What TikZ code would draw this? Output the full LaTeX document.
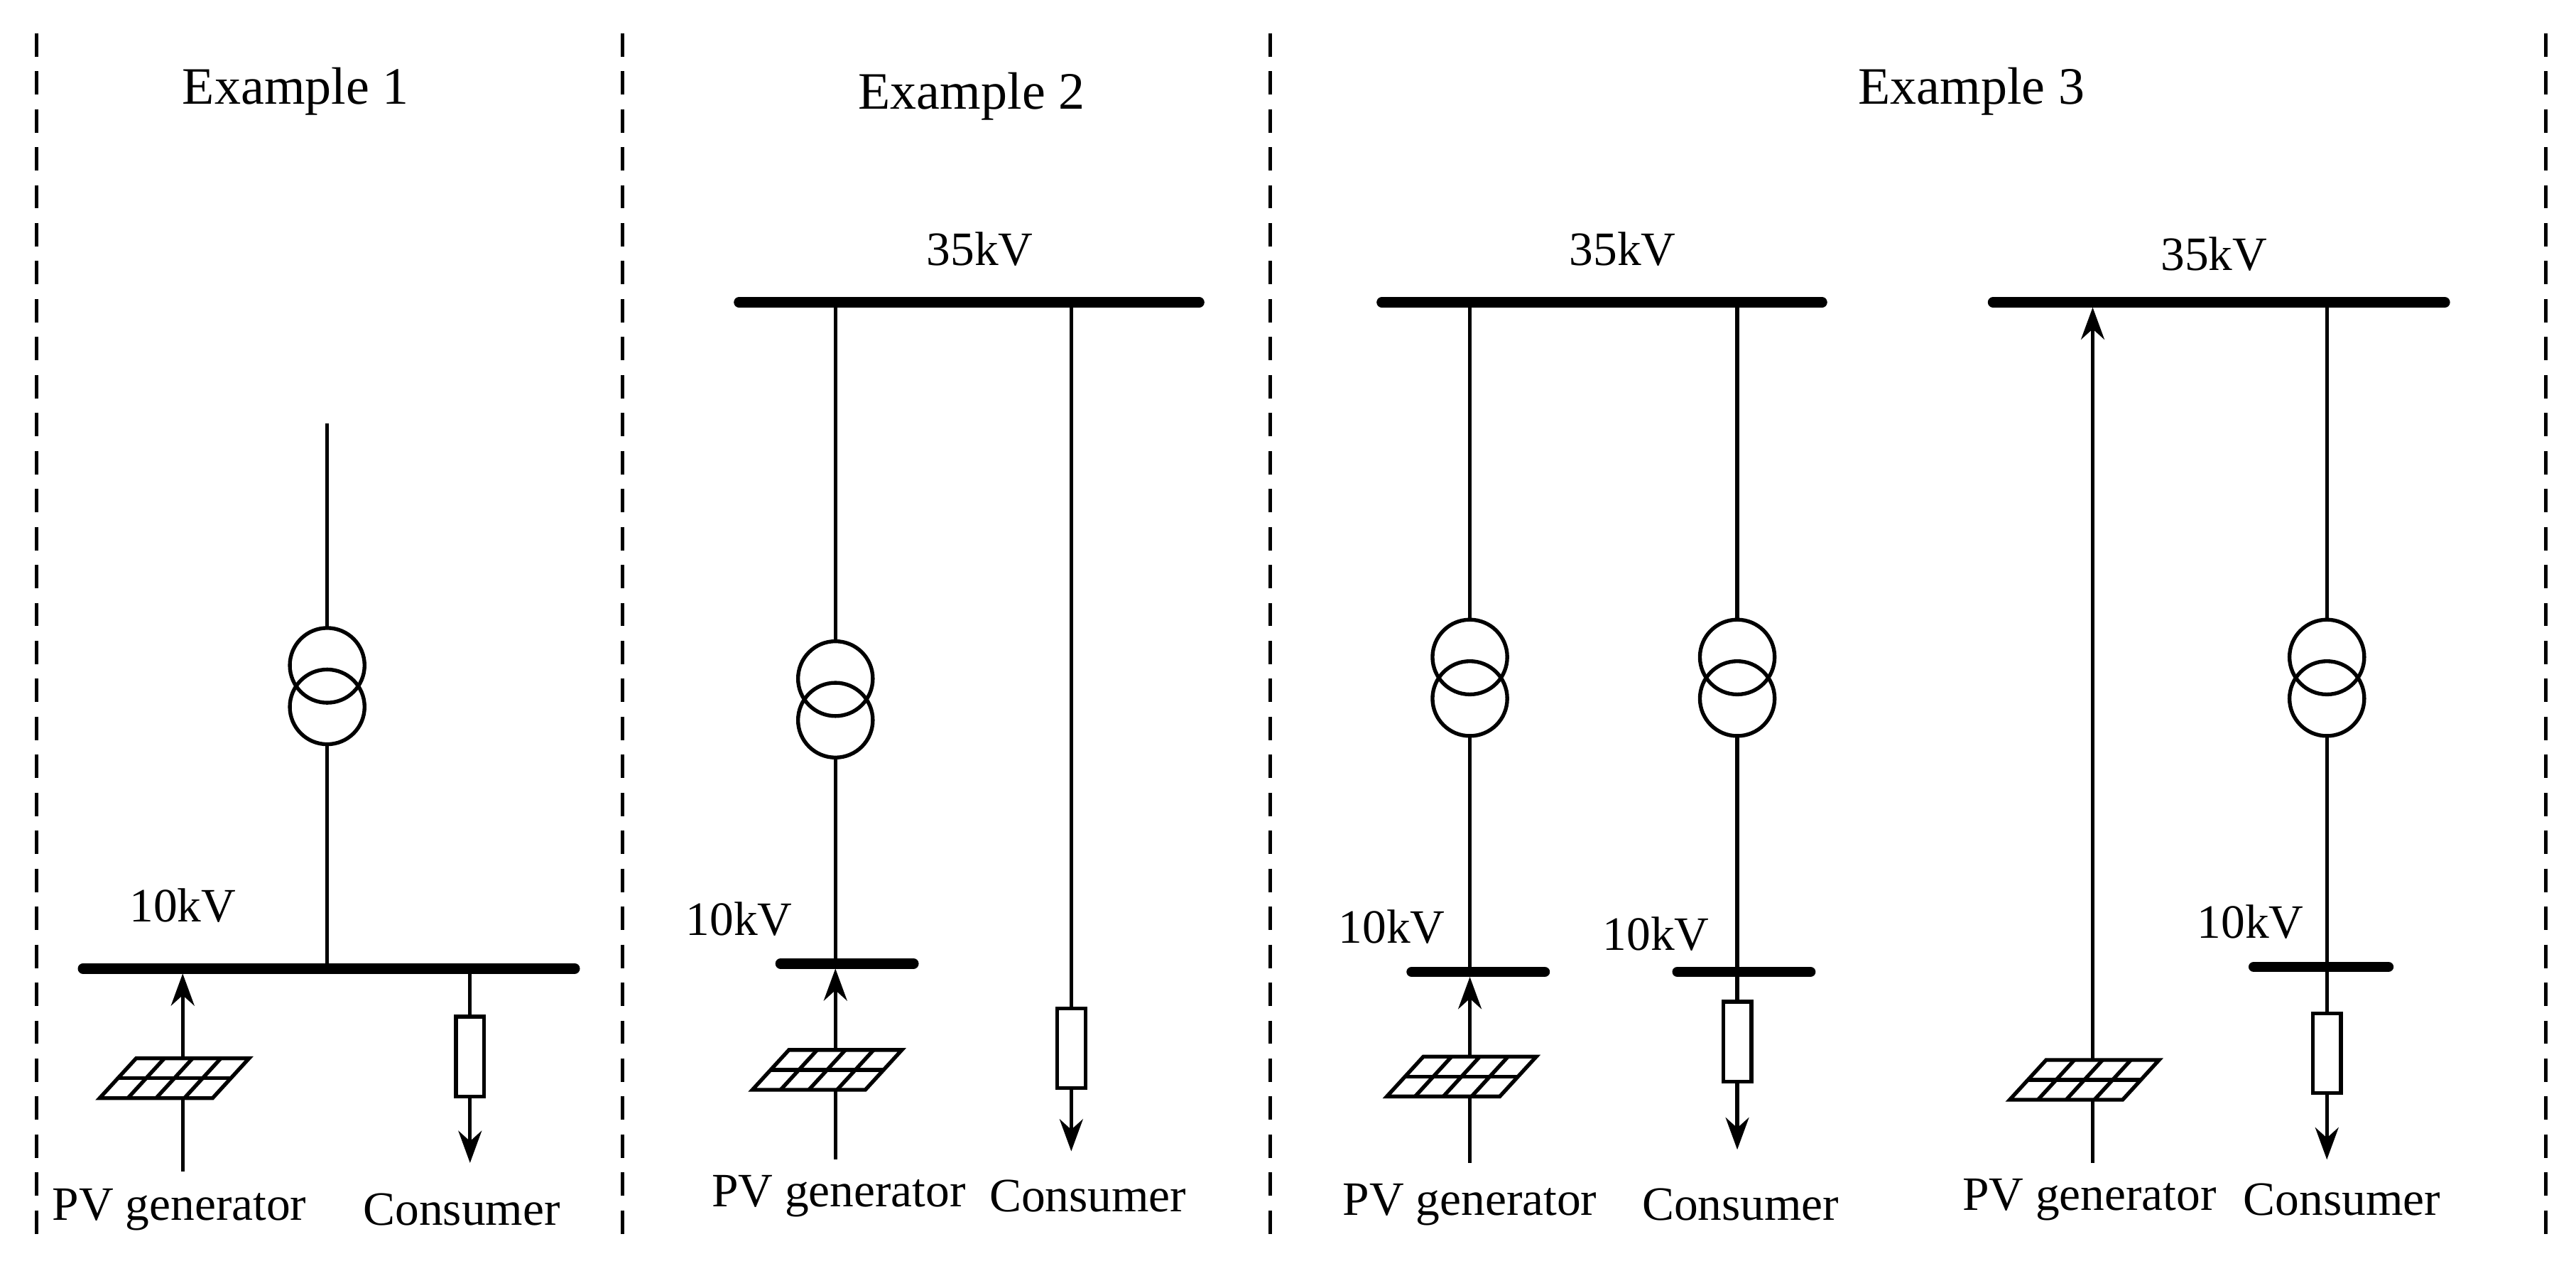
\documentclass[tikz,border=0pt]{standalone}
\usepackage{fontspec}
\setmainfont{Liberation Serif}
\usetikzlibrary{arrows.meta}
\begin{document}
\begin{tikzpicture}[x=0.01cm,y=-0.01cm,line width=0.65pt,
  bus/.style={line width=1.8pt,line cap=round},
  sep/.style={line width=0.6pt,dash pattern=on 4pt off 2.5pt},
  flow/.style={-{Stealth[length=5.5pt,width=4pt]}},
  lbl/.style={font=\fontsize{8.2}{10}\selectfont,inner sep=0pt},
  title/.style={font=\fontsize{9}{11}\selectfont,inner sep=0pt},
  trafo/.pic={\draw (0,-12.5) circle (22.5); \draw (0,12.5) circle (22.5);},
  pv/.pic={\draw[fill=white] (-50,12) -- (18,12) -- (40,-12) -- (-28,-12) -- cycle;
    \draw (-39,0) -- (29,0);
    \foreach \t in {0.25,0.5,0.75} {\draw ({-50+68*\t},12) -- ({-28+68*\t},-12);}},
  load/.pic={\draw[fill=white] (-8.5,-24) rectangle (8.5,24);}]
\useasboundingbox (0,0) rectangle (1551,762);
% separators
\foreach \x in {22,375,765,1533} \draw[sep] (\x,20) -- (\x,745);
\node[title] at (178,55) {Example 1};
\node[title] at (585,58) {Example 2};
\node[title] at (1187,55) {Example 3};

% ---------- Example 1
\draw[bus] (50,583) -- (346,583);
\node[lbl] at (110,545) {10kV};
\pic at (197,413) {trafo};
\draw (197,255) -- (197,378);
\draw (197,448) -- (197,583);
\draw[flow] (110,705) -- (110,586);
\pic at (110,649) {pv};
\draw (283,583) -- (283,636);
\draw[flow] (283,636) -- (283,700);
\pic at (283,636) {load};
\node[lbl] at (108,728) {PV generator};
\node[lbl] at (278,728) {Consumer};

% ---------- Example 2
\draw[bus] (445,182) -- (722,182);
\node[lbl] at (590,150) {35kV};
\pic at (503,421) {trafo};
\draw (503,182) -- (503,386);
\draw (503,456) -- (503,580);
\draw[bus] (470,580) -- (550,580);
\node[lbl] at (445,553) {10kV};
\draw[flow] (503,698) -- (503,583);
\pic at (503,644) {pv};
\draw (645,182) -- (645,631);
\draw[flow] (645,631) -- (645,693);
\pic at (645,631) {load};
\node[lbl] at (505,720) {PV generator};
\node[lbl] at (655,720) {Consumer};

% ---------- Example 3, left
\draw[bus] (832,182) -- (1097,182);
\node[lbl] at (977,150) {35kV};
\pic at (885,408) {trafo};
\draw (885,182) -- (885,373);
\draw (885,443) -- (885,585);
\draw[bus] (850,585) -- (930,585);
\node[lbl] at (838,558) {10kV};
\draw[flow] (885,700) -- (885,588);
\pic at (885,648) {pv};
\pic at (1046,408) {trafo};
\draw (1046,182) -- (1046,373);
\draw (1046,443) -- (1046,585);
\draw[bus] (1010,585) -- (1090,585);
\node[lbl] at (997,562) {10kV};
\draw (1046,585) -- (1046,627);
\draw[flow] (1046,627) -- (1046,692);
\pic at (1046,627) {load};
\node[lbl] at (885,725) {PV generator};
\node[lbl] at (1048,725) {Consumer};

% ---------- Example 3, right
\draw[bus] (1200,182) -- (1472,182);
\node[lbl] at (1333,153) {35kV};
\draw[flow] (1260,700) -- (1260,185);
\pic at (1260,650) {pv};
\pic at (1401,408) {trafo};
\draw (1401,182) -- (1401,373);
\draw (1401,443) -- (1401,582);
\draw[bus] (1357,582) -- (1438,582);
\node[lbl] at (1355,555) {10kV};
\draw (1401,582) -- (1401,634);
\draw[flow] (1401,634) -- (1401,698);
\pic at (1401,634) {load};
\node[lbl] at (1258,722) {PV generator};
\node[lbl] at (1410,722) {Consumer};
\end{tikzpicture}
\end{document}
